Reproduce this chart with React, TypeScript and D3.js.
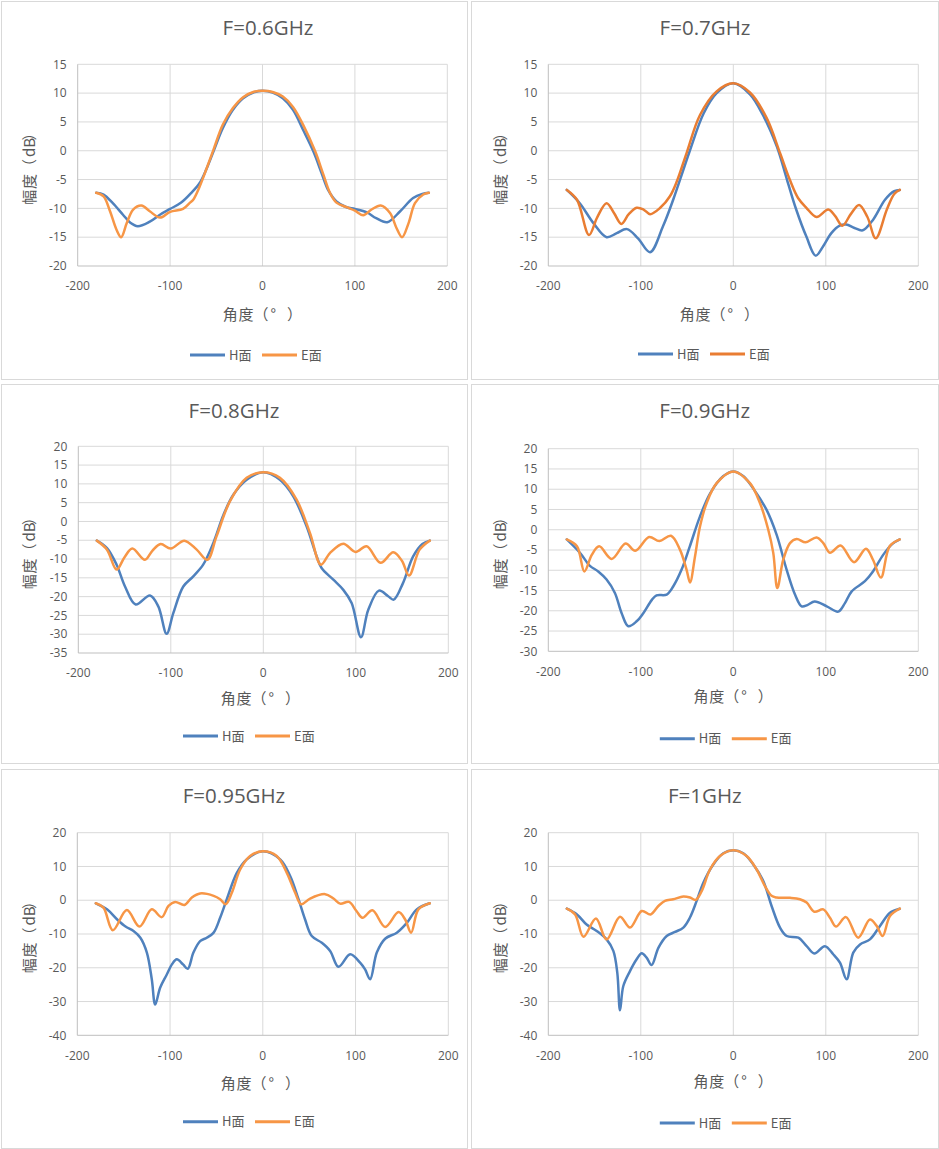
import React from 'react';
import * as d3 from 'd3';

type Pt = [number, number];

const titles = ['F=0.6GHz', 'F=0.7GHz', 'F=0.8GHz', 'F=0.9GHz', 'F=0.95GHz', 'F=1GHz'];
const seriesNames = ['H面', 'E面'];
const xAxisTitle = ['角', '度', '（', '°', '）'];
const yAxisTitle = ['幅', '度', '（', 'dB', '）'];
const xTicks = [-200, -100, 0, 100, 200];
const yTicksA = [-20, -15, -10, -5, 0, 5, 10, 15];
const yTicksB = [-35, -30, -25, -20, -15, -10, -5, 0, 5, 10, 15, 20];
const yTicksC = [-30, -25, -20, -15, -10, -5, 0, 5, 10, 15, 20];
const yTicksD = [-40, -30, -20, -10, 0, 10, 20];

const h06: Pt[] = [[-180,-7.3],[-172,-7.6],[-162,-9.1],[-151,-11.1],[-143,-12.5],[-135,-13.1],[-122,-12.3],[-111,-11.1],[-100,-10.1],[-88,-9.0],[-77,-7.3],[-68,-5.6],[-61,-3.3],[-53,-0.1],[-43,3.9],[-32,7.1],[-21,9.1],[-10,10.1],[0,10.4],[11,10.1],[22,9.1],[33,7.1],[44,3.6],[55,-0.1],[64,-3.9],[71,-6.8],[80,-8.8],[91,-9.8],[100,-10.1],[113,-10.7],[123,-11.7],[135,-12.4],[149,-10.5],[163,-8.2],[173,-7.5],[180,-7.3]];
const e06: Pt[] = [[-180,-7.3],[-172,-7.9],[-165,-10.5],[-158,-13.7],[-153,-15.0],[-147,-12.6],[-140,-10.2],[-131,-9.5],[-122,-10.5],[-111,-11.6],[-100,-10.6],[-86,-10.1],[-79,-9.1],[-75,-8.5],[-68,-6.2],[-61,-3.3],[-53,0.2],[-43,4.5],[-32,7.4],[-21,9.3],[-10,10.2],[0,10.4],[11,10.2],[22,9.4],[33,7.6],[44,4.5],[57,-0.1],[66,-4.2],[73,-7.3],[80,-9.0],[91,-9.8],[100,-10.4],[109,-11.2],[118,-10.2],[128,-9.5],[138,-10.8],[145,-13.4],[151,-15.0],[158,-12.6],[165,-9.1],[174,-7.6],[180,-7.3]];

const h07: Pt[] = [[-180,-6.8],[-166,-9.1],[-151,-12.6],[-137,-15.0],[-126,-14.3],[-115,-13.6],[-103,-15.2],[-90,-17.6],[-76,-13.1],[-65,-8.5],[-54,-3.3],[-47,0],[-32,6.5],[-18,10],[0,11.7],[18,9.8],[32,6.2],[47,0.75],[58,-5.0],[68,-10.2],[79,-14.9],[89,-18.2],[97,-16.6],[106,-14.3],[115,-13.0],[122,-12.8],[131,-13.4],[140,-13.8],[151,-12],[164,-8.5],[174,-7.0],[180,-6.8]];
const e07: Pt[] = [[-180,-6.8],[-169,-8.5],[-156,-14.6],[-147,-11.5],[-137,-9.1],[-129,-10.8],[-121,-12.7],[-113,-11],[-104.5,-9.9],[-97,-10.2],[-90,-11],[-79,-9.9],[-68.5,-7.9],[-61,-5.3],[-50.5,-0.4],[-36,6.2],[-18,10.3],[0,11.7],[18,10.1],[36,5.7],[50.5,-0.4],[61,-5],[70,-8.2],[79,-9.9],[90,-11.5],[102.7,-10.2],[110,-11.3],[118,-13],[127,-11],[136,-9.4],[145,-11.5],[154,-15.2],[166,-10.2],[174,-7.5],[180,-6.8]];

const h08: Pt[] = [[-180,-5.1],[-169,-7.1],[-158.6,-11.5],[-149.5,-17.3],[-138,-22.1],[-122.5,-19.7],[-113.5,-22.6],[-104.5,-29.9],[-97.3,-24.4],[-86.5,-17.3],[-75.7,-14.6],[-65,-11.5],[-54,-5.7],[-43,1.8],[-32.4,7.1],[-18,11.1],[0,13.1],[18,11.1],[32.4,6.7],[46.8,-1.3],[57.7,-9.3],[63,-12.4],[75.7,-15.5],[86.5,-18.2],[95.5,-21.7],[105.6,-30.8],[113.5,-23.5],[125,-18.4],[135,-19.9],[141,-20.8],[151,-16.4],[162,-9.3],[172,-6],[180,-5.1]];
const e08: Pt[] = [[-180,-5.1],[-169,-7.5],[-158.6,-12.8],[-150,-9.5],[-141.6,-7.2],[-128,-10.2],[-120,-7.8],[-111,-6.0],[-100,-7.2],[-85.4,-5.1],[-72,-7.5],[-60.5,-10.2],[-50.5,-3.9],[-36,5.4],[-18,11.6],[0,13.1],[18,11.6],[36,5.8],[50.5,-3.1],[62.3,-11.5],[72,-8.4],[86.5,-5.9],[99.8,-8.1],[111.7,-6.6],[126.8,-11],[140.5,-8.2],[150,-10.5],[157.5,-14.4],[169,-7.5],[180,-5.1]];

const h09: Pt[] = [[-180,-2.4],[-165.8,-5.7],[-155,-8.9],[-146,-10.3],[-137,-12.3],[-128,-15.6],[-120.7,-20.6],[-113.5,-23.8],[-104.5,-22.6],[-97.3,-20.6],[-88,-17.3],[-83,-16.2],[-72,-16.0],[-65,-14.0],[-56,-9.9],[-47,-4.1],[-36,3.3],[-25,9.0],[-11,13.2],[0,14.4],[11,13.2],[25,9.0],[36,4.9],[46.8,-1.2],[57.7,-9.9],[66.7,-16.0],[73.9,-18.9],[80,-18.6],[88,-17.7],[101,-18.9],[113.5,-20.2],[120.7,-18.1],[128,-15.2],[142.3,-12.7],[151,-10.3],[162,-6.2],[172,-3.5],[180,-2.4]];
const e09: Pt[] = [[-180,-2.4],[-169,-4.1],[-161,-10.3],[-153,-6.2],[-145,-4.1],[-131.5,-7.2],[-116.4,-3.4],[-106,-5.2],[-91,-1.8],[-80,-2.8],[-67.4,-1.5],[-57.7,-4.9],[-50.5,-9.9],[-46.8,-13.0],[-41.4,-6.6],[-36,0.8],[-28.8,6.6],[-18,11.5],[0,14.4],[18,11.5],[28.8,6.6],[37.8,0],[43.2,-5.7],[47.6,-14.4],[54,-7.4],[61.3,-3.3],[68.5,-2.3],[78.2,-3.1],[90,-1.9],[97.3,-3.3],[104.5,-5.7],[116,-3.9],[130.5,-8.0],[143.4,-4.7],[151,-7.4],[159.6,-11.8],[169,-4.1],[180,-2.4]];

const h095: Pt[] = [[-180,-0.9],[-168,-2.7],[-157,-5.7],[-148,-7.8],[-139.4,-9.1],[-132,-11.1],[-125,-15.5],[-119.7,-23.4],[-116,-30.9],[-110.7,-25.9],[-103.5,-22],[-98,-19],[-92.7,-17.5],[-86,-19],[-80.9,-20.3],[-74.8,-15.5],[-67.6,-12.1],[-60.4,-11.1],[-53,-9.6],[-46,-5.2],[-38.8,0.3],[-28,8.1],[-17.3,12.1],[0,14.5],[18.7,12.1],[29.5,7.2],[38.5,0.3],[45.6,-5.7],[52.8,-10.6],[63.6,-12.6],[72.6,-15],[81.6,-19.7],[94.2,-16.0],[104.9,-18.5],[110.3,-20.5],[115.7,-23.4],[122.9,-15.5],[131.9,-11.4],[144.5,-9.6],[155.3,-6.7],[166,-2.7],[180,-0.9]];
const e095: Pt[] = [[-180,-0.9],[-171.8,-2.2],[-161.7,-8.9],[-146.6,-2.9],[-133,-7.8],[-119.7,-2.7],[-109,-5.0],[-101.7,-1.7],[-94.5,-0.5],[-84.5,-1.4],[-76.5,0.8],[-67.6,2.0],[-53,1.3],[-46,0.3],[-40,-1.2],[-33.4,2.2],[-24.4,9.1],[-13.7,13.1],[0,14.5],[15,13.1],[25.9,8.1],[34.9,2.2],[41.3,-1.2],[51,0.5],[67.2,1.8],[76.2,0.5],[83.4,-1.0],[93,-0.5],[101,-3.2],[107.5,-5.2],[118.2,-3.0],[131.9,-7.9],[146.3,-3.5],[153.5,-5.7],[159.9,-9.6],[167.8,-2.7],[180,-0.9]];

const h10: Pt[] = [[-180,-2.5],[-169,-4.2],[-158.6,-7.2],[-147.7,-9.1],[-137,-11.6],[-129.7,-15.0],[-125.4,-21.5],[-122.5,-32.6],[-118.9,-25.4],[-111.7,-21],[-104.5,-17.5],[-99,-15.7],[-93.7,-17],[-88.3,-19.2],[-81,-14.1],[-72,-10.6],[-63,-9.4],[-54,-8.1],[-47,-5.2],[-39.6,-0.2],[-32.4,5.2],[-21.6,10.6],[-10.8,13.9],[0,14.8],[10.8,13.9],[21.6,10.6],[32.4,5.7],[41.4,-1.7],[50.5,-8.1],[57.7,-10.6],[70.3,-11.1],[79.3,-13.6],[87.6,-15.8],[99,-13.6],[108,-16],[115.3,-18.5],[122.5,-23.4],[129.7,-15.5],[137,-13.1],[147.7,-11.6],[158.6,-7.6],[169.4,-3.7],[180,-2.5]];
const e10: Pt[] = [[-180,-2.5],[-171,-4.2],[-162,-10.8],[-148.5,-5.4],[-137,-11.6],[-122.5,-4.9],[-111.7,-8.1],[-99,-3.2],[-89.4,-4.2],[-81,-1.7],[-73.9,-0.2],[-64.9,0.3],[-54,1.1],[-46.8,0.8],[-40.7,0.1],[-34.2,2.7],[-25.2,9.1],[-14.4,13.1],[0,14.8],[14.4,13.1],[25.2,9.1],[34.2,4.2],[41.4,1.3],[46.8,0.8],[61.3,0.7],[72,0.3],[79.3,-0.7],[87.6,-3.4],[97.3,-2.7],[104.5,-5.2],[111,-7.8],[121.8,-5.0],[135,-11.1],[147.7,-5.7],[155,-7.6],[161.4,-10.6],[169.4,-4.7],[180,-2.5]];

const BLUE = '#4F81BD';
const ORANGE = '#F79646';
const ORANGE_DARK = '#E97D32';
const TEXT = '#595959';
const GRID = '#D9D9D9';
const AXIS = '#BFBFBF';

interface PanelCfg {
  title: string;
  h: Pt[];
  e: Pt[];
  eColor: string;
  yTicks: number[];
  box: [number, number, number, number];
  plot: [number, number, number, number];
  titlePos: [number, number];
  xLabelPos: [number, number];
  yLabelPos: [number, number];
  legendPos: [number, number];
}

const panels: PanelCfg[] = [
  { title: titles[0], h: h06, e: e06, eColor: ORANGE, yTicks: yTicksA, box: [1, 1, 466, 378], plot: [77.7, 447.3, 64.3, 266], titlePos: [268, 28], xLabelPos: [259, 315], yLabelPos: [30, 168.5], legendPos: [256, 355] },
  { title: titles[1], h: h07, e: e07, eColor: ORANGE_DARK, yTicks: yTicksA, box: [471, 1, 467, 378], plot: [548.3, 918.3, 64.3, 266], titlePos: [705, 28], xLabelPos: [716, 315], yLabelPos: [501, 168.5], legendPos: [704, 354] },
  { title: titles[2], h: h08, e: e08, eColor: ORANGE, yTicks: yTicksB, box: [1, 384, 466, 379], plot: [78.3, 448.3, 446.3, 653], titlePos: [234, 410.5], xLabelPos: [257, 699], yLabelPos: [30, 553], legendPos: [249, 736] },
  { title: titles[3], h: h09, e: e09, eColor: ORANGE, yTicks: yTicksC, box: [471, 384, 467, 379], plot: [548.3, 918.3, 448.7, 651.3], titlePos: [704.7, 410.5], xLabelPos: [729.7, 697], yLabelPos: [501, 553], legendPos: [725.8, 738.7] },
  { title: titles[4], h: h095, e: e095, eColor: ORANGE, yTicks: yTicksD, box: [1, 769, 466, 379], plot: [77.3, 448.3, 832.7, 1035.3], titlePos: [234, 795.5], xLabelPos: [257, 1084], yLabelPos: [30, 937], legendPos: [249, 1121.7] },
  { title: titles[5], h: h10, e: e10, eColor: ORANGE, yTicks: yTicksD, box: [471, 769, 467, 379], plot: [548.3, 918.3, 832.7, 1035.3], titlePos: [704.8, 795.5], xLabelPos: [729.7, 1082], yLabelPos: [501, 937], legendPos: [725.8, 1123] },
];

const NUM_FONT = '"Open Sans", "Noto Sans CJK SC", sans-serif';
const CJK_FONT = '"Noto Sans CJK SC", "Open Sans", sans-serif';

// Lays out a CJK axis title as fixed-pitch cells (full-width punctuation kept full width)
function CjkLabel({ parts, fontSize }: { parts: string[]; fontSize: number }) {
  const p = 15.7;
  const s = -36.5;
  // offsets: [anchor, position]
  const layout: [string, number][] = [
    ['middle', s + p * 0.5],
    ['middle', s + p * 1.5],
    ['end', s + 46],
    ['start', s + 48],
    ['start', s + 64.5],
  ];
  return (
    <>
      {parts.map((c, i) => (
        <text key={i} x={layout[i][1]} y={0} dy="0.35em" textAnchor={layout[i][0] as any} fontSize={fontSize} fill={TEXT} fontFamily={CJK_FONT} style={{ textSpacingTrim: 'space-all' } as any}>{c}</text>
      ))}
    </>
  );
}

function Panel({ cfg }: { cfg: PanelCfg }) {
  const [px0, px1, py0, py1] = cfg.plot;
  const x = d3.scaleLinear().domain([xTicks[0], xTicks[xTicks.length - 1]]).range([px0, px1]);
  const y = d3.scaleLinear().domain([cfg.yTicks[0], cfg.yTicks[cfg.yTicks.length - 1]]).range([py1, py0]);
  const line = d3.line<Pt>().x((d) => x(d[0])).y((d) => y(d[1])).curve(d3.curveCatmullRom.alpha(0.5));
  const [lx, ly] = cfg.legendPos;
  const ls = lx - 66;
  return (
    <g>
      <rect x={cfg.box[0] + 0.5} y={cfg.box[1] + 0.5} width={cfg.box[2]} height={cfg.box[3]} fill="#fff" stroke={GRID} strokeWidth={1} />
      {cfg.yTicks.slice(1).map((t) => (
        <line key={'hy' + t} x1={px0} x2={px1} y1={y(t)} y2={y(t)} stroke={GRID} strokeWidth={1} />
      ))}
      {xTicks.slice(1).map((t) => (
        <line key={'vx' + t} x1={x(t)} x2={x(t)} y1={py0} y2={py1} stroke={GRID} strokeWidth={1} />
      ))}
      <line x1={px0} x2={px0} y1={py0} y2={py1} stroke={AXIS} strokeWidth={1} />
      <line x1={px0} x2={px1} y1={py1} y2={py1} stroke={AXIS} strokeWidth={1} />
      {cfg.yTicks.map((t) => (
        <text key={'ty' + t} x={px0 - 11} y={y(t)} dy="0.35em" textAnchor="end" fontSize={12} fill={TEXT} fontFamily={NUM_FONT}>{t}</text>
      ))}
      {xTicks.map((t) => (
        <text key={'tx' + t} x={x(t)} y={py1 + 20} dy="0.35em" textAnchor="middle" fontSize={12} fill={TEXT} fontFamily={NUM_FONT}>{t}</text>
      ))}
      <path d={line(cfg.h) || ''} fill="none" stroke={BLUE} strokeWidth={2.5} strokeLinejoin="round" strokeLinecap="round" />
      <path d={line(cfg.e) || ''} fill="none" stroke={cfg.eColor} strokeWidth={2.5} strokeLinejoin="round" strokeLinecap="round" />
      <text x={cfg.titlePos[0]} y={cfg.titlePos[1]} dy="0.35em" textAnchor="middle" fontSize={20.5} fill={TEXT} fontFamily={NUM_FONT}>{cfg.title}</text>
      <g transform={`translate(${cfg.xLabelPos[0]},${cfg.xLabelPos[1]})`}>
        <CjkLabel parts={xAxisTitle} fontSize={15} />
      </g>
      <g transform={`translate(${cfg.yLabelPos[0]},${cfg.yLabelPos[1]}) rotate(-90)`}>
        <CjkLabel parts={yAxisTitle} fontSize={15} />
      </g>
      <line x1={ls} x2={ls + 35} y1={ly} y2={ly} stroke={BLUE} strokeWidth={3} />
      <text x={ls + 39} y={ly} dy="0.35em" fontSize={13} fill={TEXT} fontFamily={CJK_FONT}>{seriesNames[0]}</text>
      <line x1={ls + 72} x2={ls + 107} y1={ly} y2={ly} stroke={cfg.eColor} strokeWidth={3} />
      <text x={ls + 111} y={ly} dy="0.35em" fontSize={13} fill={TEXT} fontFamily={CJK_FONT}>{seriesNames[1]}</text>
    </g>
  );
}

export default function App() {
  return (
    <svg width={939} height={1149} style={{ position: 'absolute', left: 0, top: 0, background: '#fff' }}>
      <rect x={0} y={0} width={939} height={1149} fill="#fff" />
      {panels.map((p, i) => (
        <Panel key={i} cfg={p} />
      ))}
    </svg>
  );
}
